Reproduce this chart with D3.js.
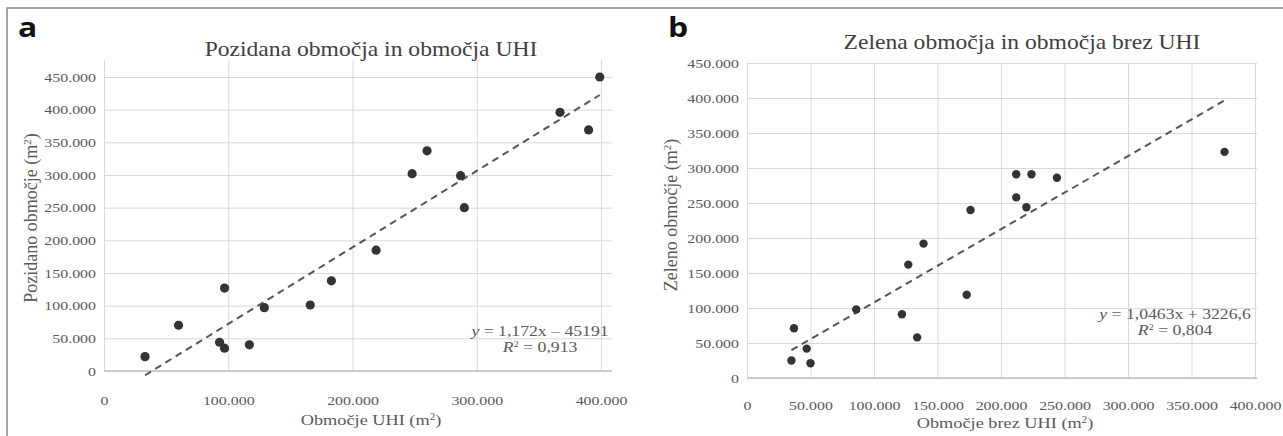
<!DOCTYPE html>
<html lang="sl">
<head>
    <meta charset="UTF-8">
    <script src="https://cdn.jsdelivr.net/npm/d3@7"></script>
    <title>UHI scatter</title>
    <style>
        body { margin: 0; background: #fff; }
        svg { display: block; }
        .grid .domain { display: none; }
        .grid line { stroke: #d9d9d9; }
    </style>
</head>
<body>
<svg width="1283" height="436"></svg>

<script>
    // panel a: built-up areas vs UHI areas
    const uhiArea   = [399000, 367000, 390000, 260000, 248000, 287000, 290000, 219000, 183000,
                       97000, 166000, 129000, 60000, 93000, 97000, 117000, 33000];
    const builtArea = [450000, 396000, 369000, 337000, 302000, 299000, 250000, 185000, 138000,
                       127000, 101000, 97000, 70000, 44000, 35000, 40000, 22000];

    // panel b: green areas vs areas without UHI
    const noUhiArea = [376000, 212000, 224000, 244000, 212000, 220000, 176000, 139000, 127000,
                       173000, 86000, 122000, 134000, 37000, 47000, 35000, 50000];
    const greenArea = [323000, 291000, 291000, 286000, 258000, 244000, 240000, 192000, 162000,
                       119000, 98000, 91000, 58000, 71000, 42000, 25000, 21000];

    const yTicks  = [0, 50000, 100000, 150000, 200000, 250000, 300000, 350000, 400000, 450000];
    const xTicksA = [0, 100000, 200000, 300000, 400000];
    const xTicksB = [0, 50000, 100000, 150000, 200000, 250000, 300000, 350000, 400000];

    // trend lines (from the chart labels)
    const trendA = {slope: 1.172, intercept: -45191, label: "1,172x – 45191", r2: "0,913"};
    const trendB = {slope: 1.0463, intercept: 3226.6, label: "1,0463x + 3226,6", r2: "0,804"};

    const SX = 1.18; // the figure is a little wider than tall
    const SERIF = '"Liberation Serif", "Times New Roman", serif';
    const fmt = d3.formatLocale({decimal: ",", thousands: ".", grouping: [3], currency: ["", ""]}).format(",d");

    const svg = d3.select("svg");

    function addText(g, x, y, str, opts) {
        const t = g.append("g")
            .attr("transform", `translate(${x},${y})`)
            .append("text")
            .attr("transform", `${opts.rotate ? "rotate(-90)" : ""} scale(${opts.rotate ? 1 : SX},1)`)
            .attr("text-anchor", opts.anchor || "middle")
            .style("font-family", opts.family || SERIF)
            .style("font-size", opts.size + "px")
            .style("font-weight", opts.weight || "normal")
            .style("fill", opts.color || "#595959");
        if (typeof str === "string") t.text(str);
        else str.forEach(p => t.append("tspan").text(p.t).style("font-style", p.i ? "italic" : null)
            .attr("baseline-shift", p.sup ? "super" : null).style("font-size", p.sup ? "0.6em" : null));
        return t;
    }

    function styleTicks(axisG) {
        axisG.attr("font-family", null).attr("font-size", null);
        axisG.selectAll(".tick text")
            .attr("transform", `scale(${SX},1)`)
            .style("font-family", SERIF)
            .style("font-size", "13.5px")
            .style("fill", "#595959");
    }

    function drawPanel(p) {
        const g = svg.append("g");

        const x = d3.scaleLinear().domain([0, 400000]).range([p.left, p.x400]);
        const y = d3.scaleLinear().domain([0, 450000]).range([p.bottom, p.top]);

        // horizontal gridlines + y labels
        const ya = g.append("g")
            .attr("class", "grid")
            .attr("transform", `translate(${p.left},0)`)
            .call(d3.axisLeft(y).tickValues(yTicks).tickFormat(fmt).tickSize(-(p.gridRight - p.left)));
        styleTicks(ya);
        ya.selectAll(".tick text").attr("x", -8 / SX);

        // vertical gridlines + x labels
        const xa = g.append("g")
            .attr("class", "grid")
            .attr("transform", `translate(0,${p.bottom})`)
            .call(d3.axisBottom(x).tickValues(p.xTicks).tickFormat(fmt).tickSize(-(p.bottom - p.gridTop)).tickPadding(p.xPad));
        styleTicks(xa);

        // base axis line
        g.append("line")
            .attr("x1", p.left).attr("x2", p.gridRight)
            .attr("y1", y(0)).attr("y2", y(0))
            .attr("stroke", "#bfbfbf").attr("stroke-width", 1.3);

        // trend line between smallest and largest x
        const [x0, x1] = d3.extent(p.xs);
        g.append("line")
            .attr("x1", x(x0)).attr("y1", y(p.trend.slope * x0 + p.trend.intercept))
            .attr("x2", x(x1)).attr("y2", y(p.trend.slope * x1 + p.trend.intercept))
            .attr("stroke", "#555")
            .attr("stroke-width", 2)
            .attr("stroke-dasharray", "7,5");

        // points
        g.selectAll("circle")
            .data(p.xs.map((v, i) => [v, p.ys[i]]))
            .join("circle")
            .attr("cx", d => x(d[0]))
            .attr("cy", d => y(d[1]))
            .attr("r", p.r)
            .attr("fill", "#333");

        // equation
        addText(g, p.eqX, p.eqY, [{t: "y", i: true}, {t: " = " + p.trend.label}], {size: 15});
        addText(g, p.eqX, p.eqY + 16, [{t: "R", i: true}, {t: "2", sup: true}, {t: " = " + p.trend.r2}], {size: 15});

        // titles
        addText(g, p.titleX, p.titleY, p.title, {size: 20, color: "#404040"});
        addText(g, p.xTitleX, p.xTitleY, p.xTitle, {size: 15.5});
        addText(g, p.yTitleX, p.yTitleY, p.yTitle, {size: 18, rotate: true});

        // panel letter
        addText(g, p.letterX, 37, p.letter, {size: 27, weight: "bold", family: '"Open Sans", "DejaVu Sans", sans-serif', color: "#111", anchor: "start"});
    }

    // frame
    svg.append("path")
        .attr("d", "M7,436 V8 H1283")
        .attr("fill", "none")
        .attr("stroke", "#8c8c8c")
        .attr("stroke-width", 1.5);

    drawPanel({
        letter: "a", letterX: 18,
        title: "Pozidana območja in območja UHI", titleX: 371, titleY: 56,
        xTitle: [{t: "Območje UHI (m"}, {t: "2", sup: true}, {t: ")"}], xTitleX: 371, xTitleY: 425,
        yTitle: [{t: "Pozidano območje (m"}, {t: "2", sup: true}, {t: ")"}], yTitleX: 37, yTitleY: 218,
        xs: uhiArea, ys: builtArea, trend: trendA, xTicks: xTicksA,
        left: 104, x400: 601, gridRight: 612, top: 77, bottom: 371, gridTop: 60, xPad: 24,
        eqX: 540, eqY: 336, r: 4.6
    });

    drawPanel({
        letter: "b", letterX: 668,
        title: "Zelena območja in območja brez UHI", titleX: 1022, titleY: 49,
        xTitle: [{t: "Območje brez UHI (m"}, {t: "2", sup: true}, {t: ")"}], xTitleX: 1005, xTitleY: 428,
        yTitle: [{t: "Zeleno območje (m"}, {t: "2", sup: true}, {t: ")"}], yTitleX: 677, yTitleY: 215,
        xs: noUhiArea, ys: greenArea, trend: trendB, xTicks: xTicksB,
        left: 747, x400: 1255, gridRight: 1257, top: 63, bottom: 378, gridTop: 63, xPad: 22,
        eqX: 1175, eqY: 319, r: 4.2
    });
</script>
</body>
</html>
